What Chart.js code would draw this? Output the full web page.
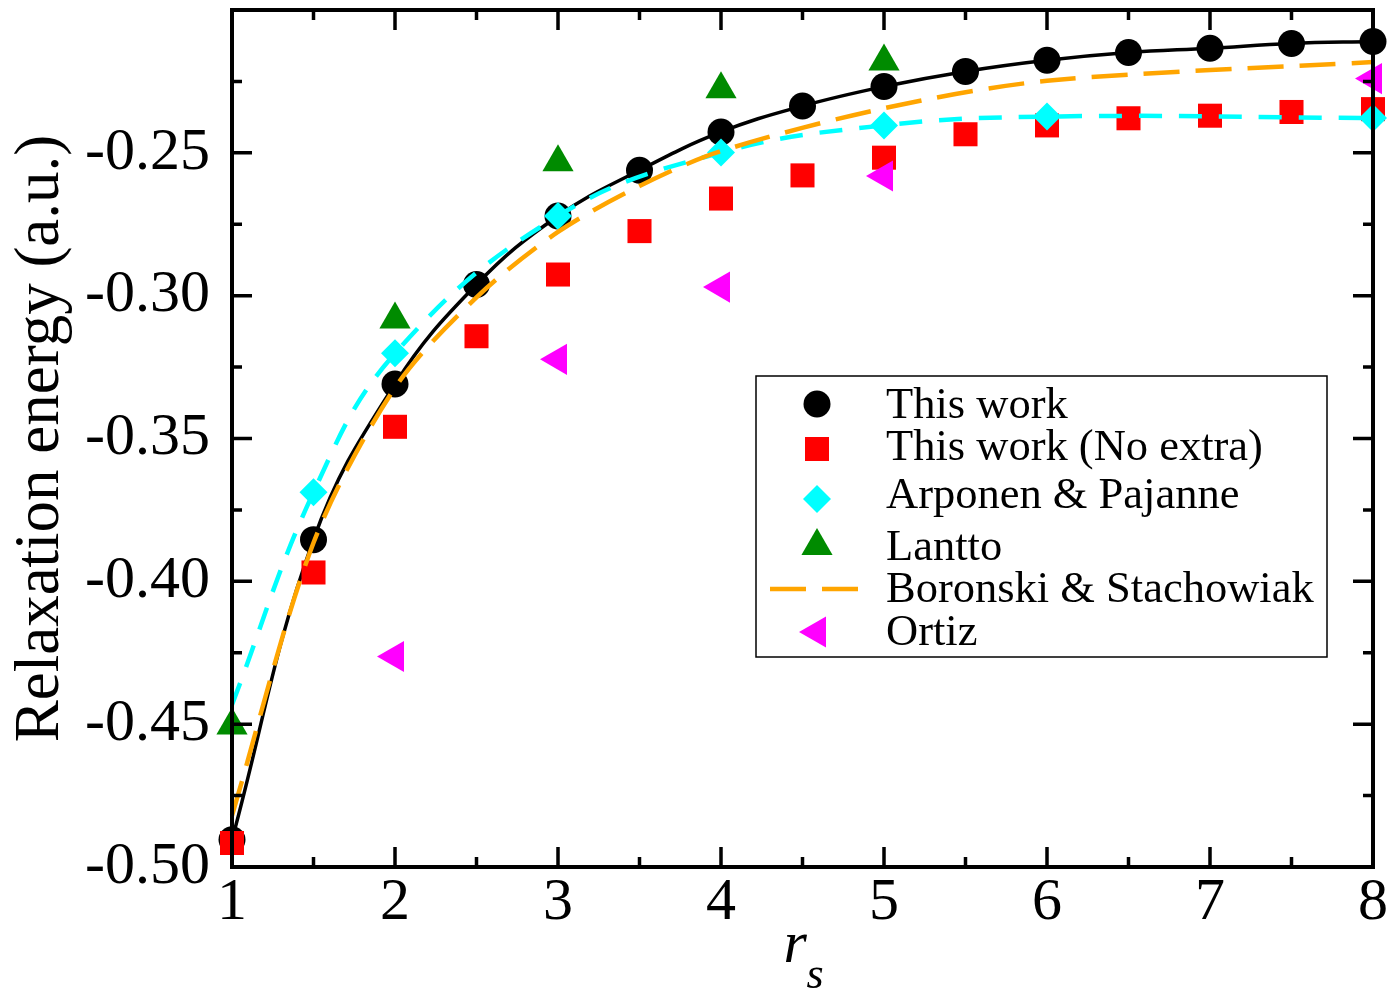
<!DOCTYPE html>
<html>
<head>
<meta charset="utf-8">
<script src="https://cdn.jsdelivr.net/npm/chart.js@4.4.1/dist/chart.umd.min.js"></script>
<style>
  html, body { margin: 0; padding: 0; background: #fff; }
  #wrap { width: 1393px; height: 994px; }
</style>
</head>
<body>
<div id="wrap"><canvas id="relaxChart" width="1393" height="994"></canvas></div>
<script>
// valores
const rsThisWork = [1, 1.5, 2, 2.5, 3, 3.5, 4, 4.5, 5, 5.5, 6, 6.5, 7, 7.5, 8];
const thisWork = [-0.4905, -0.3854, -0.3309, -0.2961, -0.2721, -0.2561, -0.2427, -0.2336, -0.2268, -0.2215, -0.2176, -0.2149, -0.2134, -0.2117, -0.2110];
const thisWorkNoExtra = [-0.4916, -0.3969, -0.3459, -0.3142, -0.2926, -0.2774, -0.2660, -0.2579, -0.2517, -0.2435, -0.2404, -0.2379, -0.2370, -0.2357, -0.2347];

const rsArponen = [1.5, 2, 3, 4, 5, 6, 8];
const arponen = [-0.3688, -0.3202, -0.2721, -0.2499, -0.2404, -0.2373, -0.2378];
const rsArponenCurve = [1, 1.5, 2, 3, 4, 5, 6, 8];
const arponenCurve = [-0.4432, -0.3688, -0.3202, -0.2721, -0.2499, -0.2404, -0.2373, -0.2378];

const rsLantto = [1, 2, 3, 4, 5];
const lantto = [-0.4505, -0.3083, -0.2533, -0.2277, -0.2180];

const rsBoronski = [1, 1.5, 2, 2.5, 3, 3.5, 4, 5, 6, 8];
const boronski = [-0.4820, -0.3865, -0.3322, -0.3006, -0.2777, -0.2616, -0.2494, -0.2344, -0.2248, -0.2182];

const rsOrtiz = [2, 3, 4, 5, 8];
const ortiz = [-0.4263, -0.3223, -0.2970, -0.2581, -0.2240];

const xTickValues = [1, 2, 3, 4, 5, 6, 7, 8];
const yTickValues = [-0.50, -0.45, -0.40, -0.35, -0.30, -0.25, -0.20];

const serif = '"Liberation Serif", "Times New Roman", Times, serif';

function pts(xs, ys) {
  return xs.map((x, i) => ({ x: x, y: ys[i] }));
}

// dibuja un marcador igual que los de Chart.js (para la leyenda)
function drawMarker(ctx, style, r, rot, x, y, color) {
  ctx.save();
  ctx.fillStyle = color;
  ctx.beginPath();
  let rad = (rot || 0) * Math.PI / 180;
  if (style === 'circle') {
    ctx.arc(x, y, r, 0, Math.PI * 2);
  } else if (style === 'rect') {
    const s = Math.SQRT1_2 * r;
    ctx.rect(x - s, y - s, 2 * s, 2 * s);
  } else if (style === 'rectRot') {
    ctx.moveTo(x - r, y);
    ctx.lineTo(x, y - r);
    ctx.lineTo(x + r, y);
    ctx.lineTo(x, y + r);
    ctx.closePath();
  } else if (style === 'triangle') {
    for (let k = 0; k < 3; k++) {
      const px = x + Math.sin(rad) * r, py = y - Math.cos(rad) * r;
      if (k === 0) ctx.moveTo(px, py); else ctx.lineTo(px, py);
      rad += 2 * Math.PI / 3;
    }
    ctx.closePath();
  }
  ctx.fill();
  ctx.restore();
}

// marco con marcas hacia dentro en los cuatro lados
const framePlugin = {
  id: 'frame',
  afterDatasetsDraw(chart) {
    const { ctx, chartArea: a, scales: { x, y } } = chart;
    ctx.save();
    ctx.strokeStyle = '#000';
    ctx.lineWidth = 3.5;
    ctx.beginPath();
    const tick = (px, py, dx, dy) => { ctx.moveTo(px, py); ctx.lineTo(px + dx, py + dy); };
    xTickValues.forEach((v, i) => {
      const px = x.getPixelForValue(v);
      tick(px, a.bottom, 0, -20);
      tick(px, a.top, 0, 20);
      if (i < xTickValues.length - 1) {
        const pm = x.getPixelForValue((v + xTickValues[i + 1]) / 2);
        tick(pm, a.bottom, 0, -10);
        tick(pm, a.top, 0, 10);
      }
    });
    yTickValues.forEach((v, i) => {
      const py = y.getPixelForValue(v);
      tick(a.left, py, 20, 0);
      tick(a.right, py, -20, 0);
      if (i < yTickValues.length - 1) {
        const pm = y.getPixelForValue((v + yTickValues[i + 1]) / 2);
        tick(a.left, pm, 10, 0);
        tick(a.right, pm, -10, 0);
      }
    });
    ctx.stroke();
    ctx.lineWidth = 4;
    ctx.strokeRect(a.left, a.top, a.right - a.left, a.bottom - a.top);
    ctx.restore();
  },
  afterDraw(chart) {
    // titulo del eje x: r con subindice s
    const { ctx, chartArea: a } = chart;
    const cx = (a.left + a.right) / 2;
    ctx.save();
    ctx.fillStyle = '#000';
    ctx.textBaseline = 'alphabetic';
    ctx.textAlign = 'left';
    ctx.font = 'italic 60px ' + serif;
    ctx.fillText('r', cx - 19, 962);
    ctx.font = 'italic 44px ' + serif;
    ctx.fillText('s', cx + 4, 988);
    ctx.restore();
  }
};

// leyenda dentro del area de la grafica
const legendPlugin = {
  id: 'boxLegend',
  afterDraw(chart) {
    const ctx = chart.ctx;
    const box = { left: 756, top: 376, right: 1327, bottom: 657 };
    const markerRows = [404, 449, 499, 546, 589, 632];
    const textRows = [418, 460, 508, 560, 602, 645];
    ctx.save();
    ctx.fillStyle = '#fff';
    ctx.fillRect(box.left, box.top, box.right - box.left, box.bottom - box.top);
    ctx.strokeStyle = '#000';
    ctx.lineWidth = 1.5;
    ctx.strokeRect(box.left, box.top, box.right - box.left, box.bottom - box.top);
    const items = chart.data.datasets.filter(d => d.inLegend);
    items.forEach((d, i) => {
      const my = markerRows[i];
      if (d.legendLine) {
        ctx.save();
        ctx.strokeStyle = d.borderColor;
        ctx.lineWidth = d.borderWidth;
        ctx.setLineDash(d.borderDash || []);
        ctx.beginPath();
        ctx.moveTo(770, my);
        ctx.lineTo(859, my);
        ctx.stroke();
        ctx.restore();
      } else {
        drawMarker(ctx, d.pointStyle, d.pointRadius, d.pointRotation, 817, my, d.pointBackgroundColor);
      }
      ctx.fillStyle = '#000';
      ctx.font = '44.5px ' + serif;
      ctx.textAlign = 'left';
      ctx.textBaseline = 'alphabetic';
      ctx.fillText(d.label, 886, textRows[i]);
    });
    ctx.restore();
  }
};

const datasets = [
  {
    label: 'This work',
    inLegend: true,
    data: pts(rsThisWork, thisWork),
    showLine: true,
    borderColor: '#000000',
    borderWidth: 3.5,
    tension: 0.4,
    pointStyle: 'circle',
    pointRadius: 13.5,
    pointBackgroundColor: '#000000',
    pointBorderWidth: 0,
    clip: false,
    order: 6
  },
  {
    label: 'This work (No extra)',
    inLegend: true,
    data: pts(rsThisWork, thisWorkNoExtra),
    showLine: false,
    pointStyle: 'rect',
    pointRadius: 17,
    pointBackgroundColor: '#ff0000',
    pointBorderWidth: 0,
    clip: false,
    order: 5
  },
  {
    label: 'Arponen & Pajanne',
    inLegend: true,
    data: pts(rsArponen, arponen),
    showLine: false,
    pointStyle: 'rectRot',
    pointRadius: 14,
    pointBackgroundColor: '#00ffff',
    pointBorderWidth: 0,
    clip: false,
    order: 3
  },
  {
    label: 'Arponen & Pajanne (curve)',
    data: pts(rsArponenCurve, arponenCurve),
    showLine: true,
    borderColor: '#00ffff',
    borderWidth: 4.5,
    borderDash: [23, 17],
    tension: 0.4,
    pointRadius: 0,
    clip: false,
    order: 4
  },
  {
    label: 'Lantto',
    inLegend: true,
    data: pts(rsLantto, lantto),
    showLine: false,
    pointStyle: 'triangle',
    pointRadius: 18,
    pointBackgroundColor: '#008b00',
    pointBorderWidth: 0,
    clip: false,
    order: 2
  },
  {
    label: 'Boronski & Stachowiak',
    inLegend: true,
    legendLine: true,
    data: pts(rsBoronski, boronski),
    showLine: true,
    borderColor: '#ffa500',
    borderWidth: 4.5,
    borderDash: [36, 16],
    tension: 0.3,
    pointRadius: 0,
    clip: false,
    order: 1
  },
  {
    label: 'Ortiz',
    inLegend: true,
    data: pts(rsOrtiz, ortiz),
    showLine: false,
    pointStyle: 'triangle',
    pointRotation: -90,
    pointRadius: 18,
    pointBackgroundColor: '#ff00ff',
    pointBorderWidth: 0,
    clip: false,
    order: 0
  }
];

const ctx = document.getElementById('relaxChart').getContext('2d');
new Chart(ctx, {
  type: 'scatter',
  data: { datasets: datasets },
  options: {
    responsive: false,
    animation: false,
    layout: { autoPadding: false, padding: { top: 10, right: 20, left: 0, bottom: 0 } },
    plugins: {
      legend: { display: false },
      tooltip: { enabled: false }
    },
    scales: {
      x: {
        type: 'linear',
        min: 1,
        max: 8,
        grid: { display: false },
        border: { display: false },
        ticks: {
          stepSize: 1,
          autoSkip: false,
          maxRotation: 0,
          color: '#000',
          padding: -2,
          font: { family: serif, size: 60, lineHeight: 1 },
          callback: v => String(v)
        },
        afterFit: s => { s.height = 127; s.paddingLeft = 0; s.paddingRight = 0; }
      },
      y: {
        min: -0.5,
        max: -0.2,
        grid: { display: false },
        border: { display: false },
        ticks: {
          stepSize: 0.05,
          color: '#000',
          padding: 14,
          font: { family: serif, size: 60, lineHeight: 1 },
          callback: v => (v > -0.225 ? '' : v.toFixed(2))
        },
        title: {
          display: true,
          text: 'Relaxation energy (a.u.)',
          color: '#000',
          font: { family: serif, size: 63, lineHeight: 1 },
          padding: { top: 10, bottom: 0 }
        },
        afterFit: s => { s.width = 232; s.paddingTop = 0; s.paddingBottom = 0; }
      }
    }
  },
  plugins: [framePlugin, legendPlugin]
});
</script>
</body>
</html>
